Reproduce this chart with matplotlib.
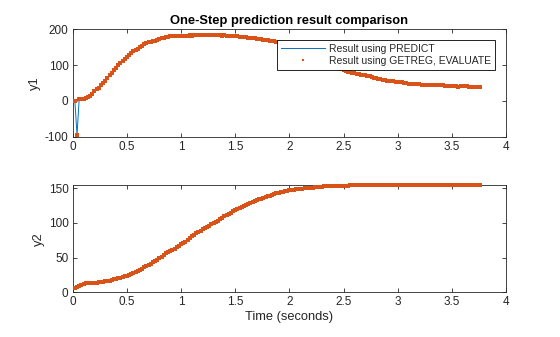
import numpy as np
import matplotlib
matplotlib.use("Agg")
import matplotlib.pyplot as plt
from matplotlib.ticker import FuncFormatter

plt.rcParams['font.family'] = ['Liberation Sans', 'DejaVu Sans']

# ---------------- data ----------------
sample_time = 0.02  # seconds between samples, first sample at t = 0.02

y1_values = [
    0, -95, 5.5, 5.5, 5.5, 8, 11.5, 15, 20, 26.5,
    32, 37, 43, 49, 56, 65, 71.5, 78, 85, 93,
    99.5, 105.5, 111.5, 117, 123, 128.5, 133.5, 138, 141.5, 145.5,
    150, 154, 158, 161.5, 163.5, 165.5, 167, 168.5, 171, 173,
    175, 176.5, 178, 179.5, 180, 181, 181.5, 182, 182.5, 182.5,
    182, 181.5, 182.5, 183, 182.5, 183, 183.5, 184, 184, 184.5,
    184.5, 184.5, 184, 184.5, 184, 183.5, 184, 183, 182, 183.5,
    182.5, 182.5, 182, 180.5, 181, 180, 179.5, 178.5, 178, 177.5,
    176.5, 176, 175.5, 174.5, 174, 173, 172, 171, 170, 169,
    168, 167, 166, 165, 164, 163, 161.5, 160, 158, 156,
    154, 151.5, 149, 146, 143, 140, 137, 133.5, 130, 127,
    123.5, 120.5, 117, 114, 111, 108, 105, 102.5, 99.5, 97,
    94.5, 92, 90, 88, 86, 84, 81.5, 79.5, 78, 76.5,
    75.5, 74, 73, 72, 71, 70, 68.5, 66, 64, 63.5,
    62.5, 61.5, 59.5, 57.5, 56.5, 56, 55.5, 54.5, 53, 52.5,
    52, 51.5, 50.5, 49.5, 48.5, 48, 47.5, 47, 46.5, 46,
    45.5, 45, 44.5, 44.5, 44.5, 44, 44, 44, 44, 43.5,
    43, 42.5, 42, 42, 42, 41.5, 41.5, 40, 41.5, 41,
    40.5, 40.5, 39.5, 39.5, 39.5, 39, 39, 39,
]

y2_values = [
    6, 7.5, 9, 11, 12.5, 13.5, 14, 14, 14, 14,
    14, 14.5, 15, 15.5, 16, 16.5, 17, 18, 19, 19.5,
    20, 21, 22, 23, 24, 25, 26.5, 28, 29.5, 31,
    32.5, 34, 36, 38, 40, 41.5, 43, 45, 47, 49.5,
    51.5, 54, 56, 58, 59.5, 61, 63, 65, 67, 69,
    71, 73, 75.5, 78, 80.5, 83, 85, 87, 89, 91,
    92.5, 94.5, 96, 98, 100, 101.5, 103.5, 105.5, 107.5, 109.5,
    111.5, 113.5, 115, 117, 118.5, 120, 121, 122.5, 124, 125.5,
    127, 128.5, 130, 131.5, 133, 134, 135, 136, 137, 138.5,
    139.5, 140.5, 141.5, 142.5, 143.5, 144, 145, 145.5, 146.5, 147,
    147.5, 148, 148.5, 149, 149.5, 149.5, 150, 150.5, 150.5, 151,
    151, 151.5, 152, 152.5, 152.5, 153, 153, 153, 153, 153,
    153, 153, 153, 153, 153, 153, 153.5, 154.3, 154.3, 154.3,
    154.3, 154.3, 154.3, 154.3, 154.3, 154.3, 154.3, 154.3, 154.3, 154.3,
    154.3, 154.3, 154.3, 154.3, 154.3, 154.3, 154.3, 154.3, 154.3, 154.3,
    154.3, 154.3, 154.3, 154.3, 154.3, 154.3, 154.3, 154.3, 154.3, 154.3,
    154.3, 154.3, 154.3, 154.3, 154.3, 154.3, 154.3, 154.3, 154.3, 154.3,
    154.3, 154.3, 154.3, 154.3, 154.3, 154.3, 154.3, 154.3, 154.3, 154.3,
    154.3, 154.3, 154.3, 154.3, 154.3, 154.3, 154.3, 154.3,
]

# PREDICT and GETREG/EVALUATE results coincide in the reference
predict_y1 = y1_values
getreg_y1 = y1_values
predict_y2 = y2_values
getreg_y2 = y2_values

title_text = "One-Step prediction result comparison"
legend_labels = ["Result using PREDICT", "Result using GETREG, EVALUATE"]
x_ticks = [0, 0.5, 1, 1.5, 2, 2.5, 3, 3.5, 4]
y1_ticks = [-100, 0, 100, 200]
y2_ticks = [0, 50, 100, 150]

# ---------------- plotting ----------------
BLUE = '#0072BD'
ORANGE = '#D95319'
AXC = '#262626'

t1 = sample_time * np.arange(1, len(y1_values) + 1)
t2 = sample_time * np.arange(1, len(y2_values) + 1)

fig = plt.figure(figsize=(5.6, 3.37), dpi=100)
ax1 = fig.add_axes([0.1298, 0.5944, 0.7738, 0.3187])
ax2 = fig.add_axes([0.1298, 0.1326, 0.7738, 0.3175])

fmt = FuncFormatter(lambda v, p: ('%g' % v))

for ax, t, yp, yg, yt, yl in [
        (ax1, t1, predict_y1, getreg_y1, y1_ticks, 'y1'),
        (ax2, t2, predict_y2, getreg_y2, y2_ticks, 'y2')]:
    ax.plot(t, yp, color=BLUE, lw=0.7, label=legend_labels[0])
    ax.plot(t, yg, linestyle='none', marker='s', ms=2.5, mew=0,
            color=ORANGE, label=legend_labels[1], clip_on=False, zorder=3)
    ax.set_xlim(0, 4)
    ax.set_xticks(x_ticks)
    ax.set_yticks(yt)
    ax.xaxis.set_major_formatter(fmt)
    ax.yaxis.set_major_formatter(fmt)
    ax.tick_params(direction='in', length=3, width=0.6, colors=AXC,
                   labelsize=8.5, top=True, right=True, pad=3)
    for s in ax.spines.values():
        s.set_color(AXC)
        s.set_linewidth(0.6)
    ax.set_ylabel(yl, fontsize=9.3, color=AXC, labelpad=3)

ax1.set_ylim(-100, 200)
ax2.set_ylim(0, max(y2_values))
ax1.set_title(title_text, fontsize=9.3, fontweight='bold', color='black', pad=4)
ax2.set_xlabel("Time (seconds)", fontsize=9.3, color=AXC, labelpad=2)

leg = ax1.legend(loc='upper right', bbox_to_anchor=(0.9753, 0.9004),
                 borderaxespad=0, fontsize=7.5, numpoints=1, fancybox=False,
                 framealpha=1, edgecolor='black', handlelength=4.2,
                 handletextpad=0.4, borderpad=0.38, labelspacing=0.2)
leg.get_frame().set_linewidth(0.6)
leg.set_zorder(10)
leg.legend_handles[1].set_markersize(1.8)
for txt in leg.get_texts():
    txt.set_color(AXC)

fig.savefig('out.png', dpi=100)
